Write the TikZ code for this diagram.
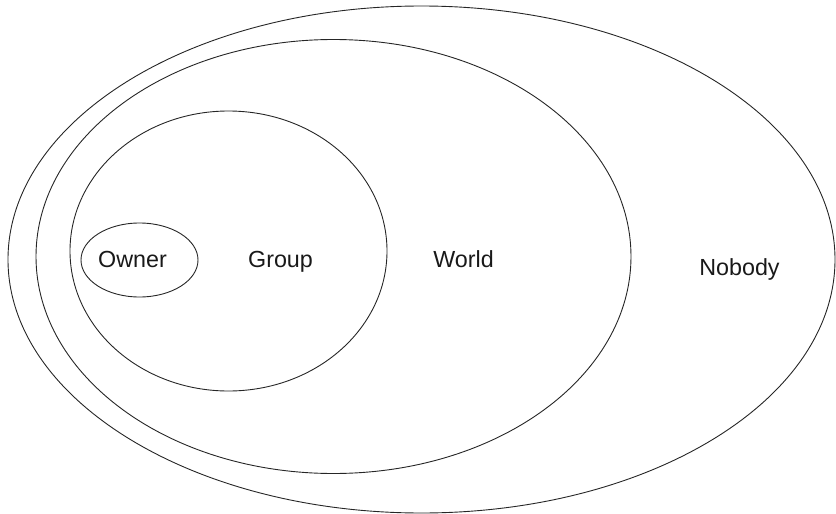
\documentclass[tikz,border=0pt]{standalone}
\usepackage{fontspec}
\setmainfont{Liberation Sans}
\begin{document}
\begin{tikzpicture}[x=1pt,y=-1pt,
  ring/.style={draw=black!85, line width=0.9pt},
  lbl/.style={font=\fontsize{23.3}{27}\selectfont, inner sep=0pt, text=black!90}]
\useasboundingbox (0,0) rectangle (836,514);
\coordinate (cNobody) at (421.5,259.5);
\coordinate (cWorld) at (333.5,256.5);
\coordinate (cGroup) at (228.5,251);
\coordinate (cOwner) at (139.5,260);
\draw[ring] (cNobody) ellipse [x radius=413.5, y radius=253.5];
\draw[ring] (cWorld) ellipse [x radius=297.5, y radius=217];
\draw[ring] (cGroup) ellipse [x radius=158.5, y radius=140];
\draw[ring] (cOwner) ellipse [x radius=58.5, y radius=37];
\node[lbl, anchor=base] (owner) at (132.5,267.5) {Owner};
\node[lbl, anchor=base] (group) at (280.5,267.5) {Group};
\node[lbl, anchor=base] (world) at (463.5,267.5) {World};
\node[lbl, anchor=base] (nobody) at (739.5,275.5) {Nobody};
\end{tikzpicture}
\end{document}
